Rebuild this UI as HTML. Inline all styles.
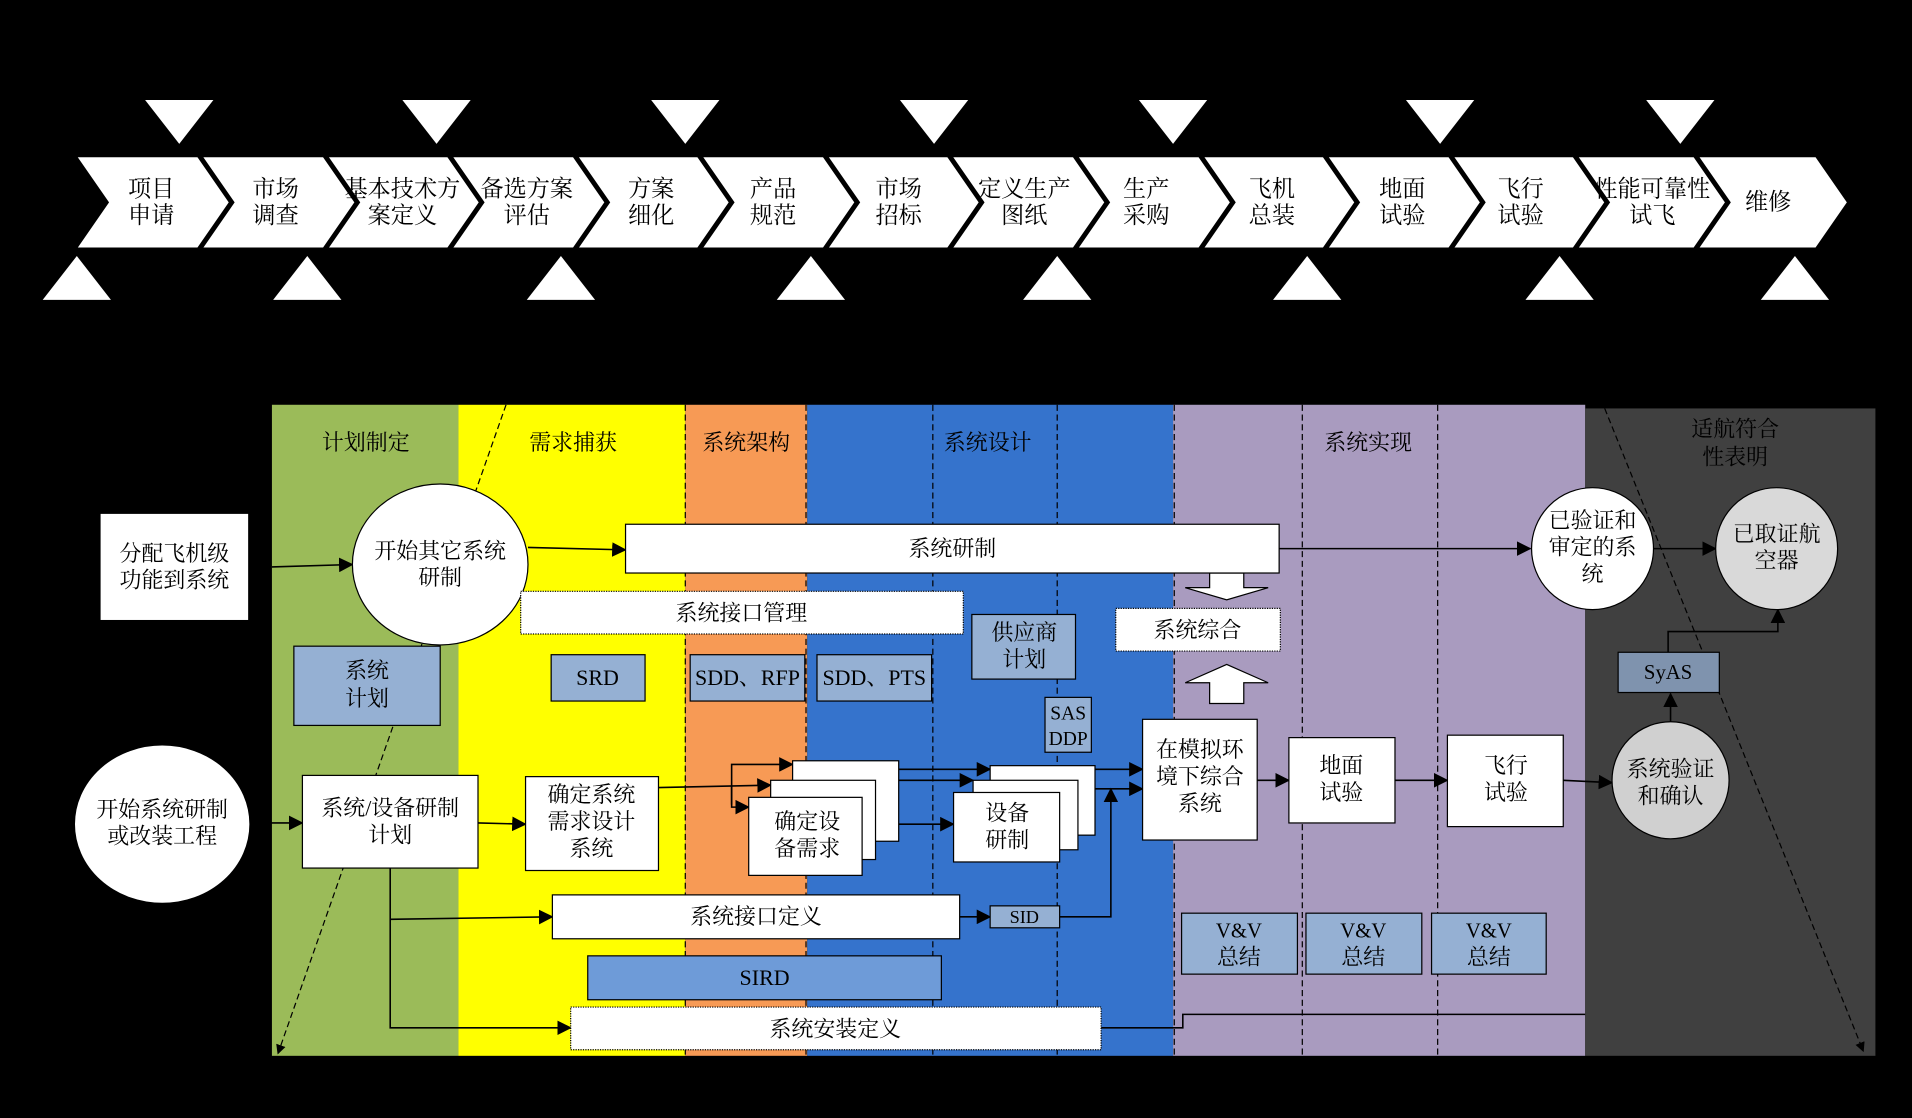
<!DOCTYPE html>
<html><head><meta charset="utf-8"><style>
html,body{margin:0;padding:0;background:#000;}
svg{display:block;}
text{font-family:"Liberation Serif","Noto Serif CJK SC","Noto Sans CJK SC",serif;fill:#000;text-anchor:middle;}
</style></head><body>
<svg width="1912" height="1118" viewBox="0 0 1568 917" preserveAspectRatio="none" xmlns="http://www.w3.org/2000/svg">
<defs><marker id="a" markerWidth="8" markerHeight="8" refX="7" refY="4" orient="auto" markerUnits="userSpaceOnUse"><path d="M0,0 L8,4 L0,8 z" fill="#000"/></marker>
<marker id="a2" markerWidth="12" markerHeight="12" refX="11" refY="6" orient="auto" markerUnits="userSpaceOnUse"><path d="M0,0 L12,6 L0,12 z" fill="#000"/></marker></defs>
<rect width="1568" height="917" fill="#000"/>
<!-- chevrons -->
<g fill="#fff" stroke="#000" stroke-width="4">
<polygon points="60,127 165,127 192,166 165,205 60,205 87,166"/>
<polygon points="163,127 268,127 295,166 268,205 163,205 190,166"/>
<polygon points="266,127 371,127 398,166 371,205 266,205 293,166"/>
<polygon points="368,127 473,127 500,166 473,205 368,205 395,166"/>
<polygon points="471,127 576,127 603,166 576,205 471,205 498,166"/>
<polygon points="573,127 678,127 705,166 678,205 573,205 600,166"/>
<polygon points="676,127 781,127 808,166 781,205 676,205 703,166"/>
<polygon points="778,127 883,127 910,166 883,205 778,205 805,166"/>
<polygon points="881,127 986,127 1013,166 986,205 881,205 908,166"/>
<polygon points="984,127 1089,127 1116,166 1089,205 984,205 1011,166"/>
<polygon points="1086,127 1191,127 1218,166 1191,205 1086,205 1113,166"/>
<polygon points="1189,127 1294,127 1321,166 1294,205 1189,205 1216,166"/>
<polygon points="1291,127 1396,127 1423,166 1396,205 1291,205 1318,166"/>
<polygon points="1390,127 1490,127 1517,166 1490,205 1390,205 1417,166"/>
</g>
<g font-size="19">
<text x="124" y="161">项目</text><text x="124" y="183">申请</text>
<text x="226" y="161">市场</text><text x="226" y="183">调查</text>
<text x="330" y="161">基本技术方</text><text x="330" y="183">案定义</text>
<text x="432" y="161">备选方案</text><text x="432" y="183">评估</text>
<text x="534" y="161">方案</text><text x="534" y="183">细化</text>
<text x="634" y="161">产品</text><text x="634" y="183">规范</text>
<text x="737" y="161">市场</text><text x="737" y="183">招标</text>
<text x="840" y="161">定义生产</text><text x="840" y="183">图纸</text>
<text x="940" y="161">生产</text><text x="940" y="183">采购</text>
<text x="1043" y="161">飞机</text><text x="1043" y="183">总装</text>
<text x="1150" y="161">地面</text><text x="1150" y="183">试验</text>
<text x="1247" y="161">飞行</text><text x="1247" y="183">试验</text>
<text x="1355" y="161">性能可靠性</text><text x="1355" y="183">试飞</text>
<text x="1450" y="172">维修</text>
</g>
<g fill="#fff">
<polygon points="119,82 175,82 147,118"/><polygon points="330,82 386,82 358,118"/><polygon points="534,82 590,82 562,118"/><polygon points="738,82 794,82 766,118"/><polygon points="934,82 990,82 962,118"/><polygon points="1153,82 1209,82 1181,118"/><polygon points="1350,82 1406,82 1378,118"/>
<polygon points="35,246 91,246 63,210"/><polygon points="224,246 280,246 252,210"/><polygon points="432,246 488,246 460,210"/><polygon points="637,246 693,246 665,210"/><polygon points="839,246 895,246 867,210"/><polygon points="1044,246 1100,246 1072,210"/><polygon points="1251,246 1307,246 1279,210"/><polygon points="1444,246 1500,246 1472,210"/>
</g>
<!-- bands -->
<rect x="223" y="332" width="153" height="534" fill="#9BBB59"/>
<rect x="376" y="332" width="186" height="534" fill="#FFFF00"/>
<rect x="562" y="332" width="100" height="534" fill="#F79A55"/>
<rect x="662" y="332" width="300" height="534" fill="#3573CC"/>
<rect x="962" y="332" width="338" height="534" fill="#A99BBF"/>
<rect x="1300" y="335" width="238" height="531" fill="#404040"/>
<g stroke="#000" stroke-width="1" stroke-dasharray="5,3" fill="none">
<line x1="562" y1="332" x2="562" y2="866"/><line x1="661" y1="332" x2="661" y2="866"/><line x1="765" y1="332" x2="765" y2="866"/><line x1="867" y1="332" x2="867" y2="866"/><line x1="963" y1="332" x2="963" y2="866"/><line x1="1068" y1="332" x2="1068" y2="866"/><line x1="1179" y1="332" x2="1179" y2="866"/>
<line x1="415" y1="332" x2="228" y2="864" marker-end="url(#a)"/>
<line x1="1316" y1="335" x2="1528" y2="862" marker-end="url(#a)"/>
</g>
<g font-size="18">
<text x="300" y="369">计划制定</text><text x="470" y="369">需求捕获</text><text x="612" y="369">系统架构</text><text x="810" y="369">系统设计</text><text x="1122" y="369">系统实现</text>
<text x="1423" y="358">适航符合</text><text x="1423" y="381">性表明</text>
</g>
<!-- connectors -->
<g stroke="#000" stroke-width="1.3" fill="none">
<line x1="223" y1="465" x2="289" y2="463" marker-end="url(#a2)"/>
<line x1="433" y1="449" x2="513" y2="451" marker-end="url(#a2)"/>
<line x1="1049" y1="450" x2="1255" y2="450" marker-end="url(#a2)"/>
<line x1="1356" y1="450" x2="1407" y2="450" marker-end="url(#a2)"/>
<line x1="205" y1="675" x2="248" y2="675" marker-end="url(#a2)"/>
<line x1="392" y1="675" x2="431" y2="676" marker-end="url(#a2)"/>
<line x1="540" y1="646" x2="632" y2="644" marker-end="url(#a2)"/>
<polyline points="600,660 600,627 650,627" marker-end="url(#a2)"/>
<polyline points="600,644 600,662 614,662" marker-end="url(#a2)"/>
<line x1="737" y1="631" x2="812" y2="631" marker-end="url(#a2)"/>
<line x1="718" y1="640" x2="798" y2="640" marker-end="url(#a2)"/>
<line x1="707" y1="676" x2="782" y2="676" marker-end="url(#a2)"/>
<line x1="898" y1="631" x2="937" y2="631" marker-end="url(#a2)"/>
<line x1="884" y1="647" x2="937" y2="647" marker-end="url(#a2)"/>
<line x1="1031" y1="640" x2="1057" y2="640" marker-end="url(#a2)"/>
<line x1="1144" y1="640" x2="1187" y2="640" marker-end="url(#a2)"/>
<line x1="1282" y1="640" x2="1322" y2="642" marker-end="url(#a2)"/>
<line x1="1370" y1="592" x2="1370" y2="569" marker-end="url(#a2)"/>
<polyline points="1368,535 1368,518 1458,518 1458,500" marker-end="url(#a2)"/>
<polyline points="320,712 320,843 468,843" marker-end="url(#a2)"/>
<line x1="320" y1="754" x2="453" y2="752" marker-end="url(#a2)"/>
<line x1="787" y1="752" x2="812" y2="752" marker-end="url(#a2)"/>
<polyline points="869,752 911,752 911,647" marker-end="url(#a2)"/>
<polyline points="903,843 970,843 970,832 1300,832"/>
</g>
<!-- hollow arrows -->
<polygon points="992,470 1020,470 1020,482 1040,482 1006,492 972,482 992,482" fill="#fff" stroke="#000"/>
<polygon points="992,577 1020,577 1020,560 1040,560 1006,545 972,560 992,560" fill="#fff" stroke="#000"/>
<!-- shapes -->
<g stroke="#000" stroke-width="1">
<rect x="82" y="421" width="122" height="88" fill="#fff"/>
<ellipse cx="361" cy="463" rx="72" ry="66" fill="#fff"/>
<rect x="513" y="430" width="536" height="40" fill="#fff"/>
<circle cx="1306" cy="450" r="50" fill="#fff"/>
<circle cx="1457" cy="450" r="50" fill="#D9D9D9"/>
<rect x="427" y="485" width="363" height="35" fill="#fff" stroke-dasharray="1,1"/>
<rect x="915" y="499" width="135" height="35" fill="#fff" stroke-dasharray="1,1"/>
<rect x="241" y="530" width="120" height="65" fill="#95B0D3"/>
<rect x="452" y="537" width="77" height="38" fill="#95B0D3"/>
<rect x="566" y="537" width="94" height="38" fill="#95B0D3"/>
<rect x="670" y="537" width="94" height="38" fill="#95B0D3"/>
<rect x="797" y="504" width="85" height="53" fill="#95B0D3"/>
<rect x="857" y="572" width="38" height="45" fill="#95B0D3"/>
<ellipse cx="133" cy="676" rx="72" ry="65" fill="#fff"/>
<rect x="248" y="636" width="144" height="76" fill="#fff"/>
<rect x="431" y="637" width="109" height="77" fill="#fff"/>
<rect x="650" y="624" width="87" height="66" fill="#fff"/>
<rect x="632" y="640" width="86" height="65" fill="#fff"/>
<rect x="614" y="654" width="93" height="64" fill="#fff"/>
<rect x="812" y="628" width="86" height="57" fill="#fff"/>
<rect x="798" y="640" width="86" height="57" fill="#fff"/>
<rect x="782" y="650" width="87" height="57" fill="#fff"/>
<rect x="937" y="590" width="94" height="99" fill="#fff"/>
<rect x="1057" y="605" width="87" height="70" fill="#fff"/>
<rect x="1187" y="603" width="95" height="75" fill="#fff"/>
<circle cx="1370" cy="640" r="48" fill="#D0D0D0"/>
<rect x="1327" y="535" width="83" height="33" fill="#7F93AE"/>
<rect x="453" y="734" width="334" height="36" fill="#fff"/>
<rect x="812" y="743" width="57" height="18" fill="#95B0D3"/>
<rect x="482" y="784" width="290" height="36" fill="#6E9BD8"/>
<rect x="468" y="826" width="435" height="35" fill="#fff" stroke-dasharray="1,1"/>
<rect x="969" y="749" width="95" height="50" fill="#95B0D3"/>
<rect x="1071" y="749" width="95" height="50" fill="#95B0D3"/>
<rect x="1174" y="749" width="94" height="50" fill="#95B0D3"/>
</g>
<g font-size="18">
<text x="143" y="460">分配飞机级</text><text x="143" y="482">功能到系统</text>
<text x="361" y="458">开始其它系统</text><text x="361" y="480">研制</text>
<text x="781" y="456">系统研制</text>
<text x="1306" y="433">已验证和</text><text x="1306" y="455">审定的系</text><text x="1306" y="477">统</text>
<text x="1457" y="444">已取证航</text><text x="1457" y="466">空器</text>
<text x="608" y="509">系统接口管理</text>
<text x="982" y="523">系统综合</text>
<text x="301" y="556">系统</text><text x="301" y="579">计划</text>
<text x="490" y="562">SRD</text><text x="613" y="562">SDD、RFP</text><text x="717" y="562">SDD、PTS</text>
<text x="840" y="525">供应商</text><text x="840" y="547">计划</text>
<text x="876" y="590" font-size="16">SAS</text><text x="876" y="611" font-size="16">DDP</text>
<text x="133" y="670">开始系统研制</text><text x="133" y="692">或改装工程</text>
<text x="320" y="669">系统/设备研制</text><text x="320" y="691">计划</text>
<text x="485" y="658">确定系统</text><text x="485" y="680">需求设计</text><text x="485" y="702">系统</text>
<text x="662" y="680">确定设</text><text x="662" y="702">备需求</text>
<text x="826" y="673">设备</text><text x="826" y="695">研制</text>
<text x="984" y="621">在模拟环</text><text x="984" y="643">境下综合</text><text x="984" y="665">系统</text>
<text x="1100" y="634">地面</text><text x="1100" y="656">试验</text>
<text x="1235" y="634">飞行</text><text x="1235" y="656">试验</text>
<text x="1370" y="637">系统验证</text><text x="1370" y="659">和确认</text>
<text x="1368" y="557" font-size="17">SyAS</text>
<text x="620" y="758">系统接口定义</text>
<text x="840" y="757" font-size="15">SID</text>
<text x="627" y="808">SIRD</text>
<text x="685" y="850">系统安装定义</text>
<text x="1016" y="769" font-size="17">V&amp;V</text><text x="1016" y="791">总结</text>
<text x="1118" y="769" font-size="17">V&amp;V</text><text x="1118" y="791">总结</text>
<text x="1221" y="769" font-size="17">V&amp;V</text><text x="1221" y="791">总结</text>
</g>
</svg>
</body></html>
